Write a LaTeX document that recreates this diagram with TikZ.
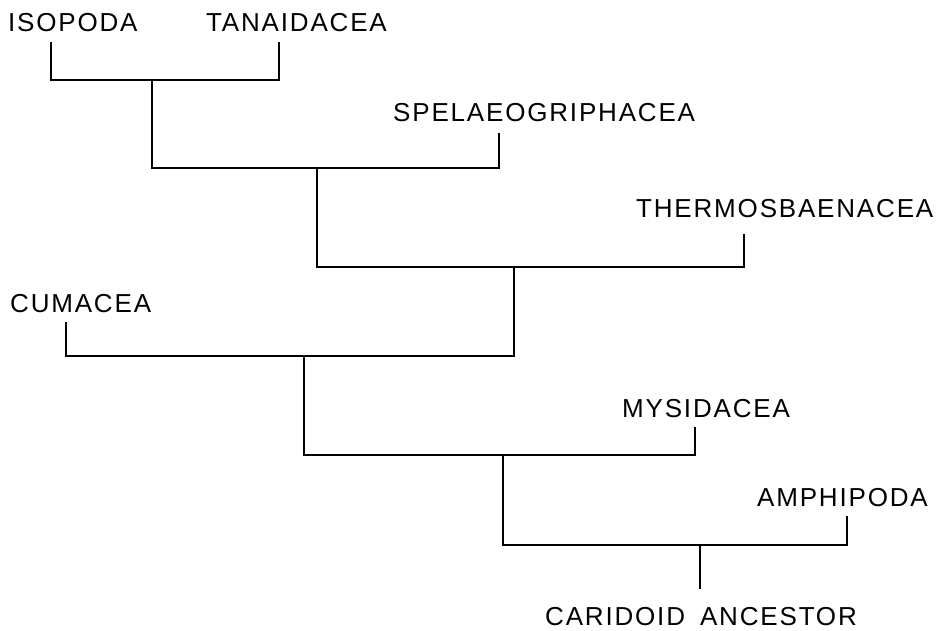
\documentclass[tikz,border=0pt]{standalone}
\usepackage{fontspec}
\setmainfont{Liberation Sans}[LetterSpace=7]
\begin{document}
\begin{tikzpicture}[x=1pt,y=-1pt,
  lab/.style={inner sep=0pt,anchor=base west,font=\fontsize{26}{30}\selectfont},
  branch/.style={line width=2.6pt,line join=miter}]
\useasboundingbox (0,0) rectangle (940,631);
% labels
\node[lab] (iso) at (8,32) {ISOPODA};
\node[lab] (tan) at (206,32) {TANAIDACEA};
\node[lab] (spe) at (393,122) {SPELAEOGRIPHACEA};
\node[lab] (the) at (636,218) {THERMOSBAENACEA};
\node[lab] (cum) at (10,312) {CUMACEA};
\node[lab] (mys) at (622,417) {MYSIDACEA};
\node[lab] (amp) at (757,506) {AMPHIPODA};
\node[lab] (car) at (545,625) {CARIDOID\hspace{6pt} ANCESTOR};
% leaf line ends
\coordinate (isoT) at (51,42);
\coordinate (tanT) at (279,42);
\coordinate (speT) at (499,133);
\coordinate (theT) at (744,234);
\coordinate (cumT) at (66,322);
\coordinate (mysT) at (695,427);
\coordinate (ampT) at (847,516);
\coordinate (carT) at (700,589);
% junctions
\coordinate (j1) at (152,80);
\coordinate (j2) at (317,168);
\coordinate (j3) at (514,267);
\coordinate (j4) at (304,356);
\coordinate (j5) at (503,455);
\coordinate (j6) at (700,545);
% branches
\draw[branch] (isoT) |- (j1) -| (tanT);
\draw[branch] (j1) |- (j2) -| (speT);
\draw[branch] (j2) |- (j3) -| (theT);
\draw[branch] (cumT) |- (j4) -| (j3);
\draw[branch] (j4) |- (j5) -| (mysT);
\draw[branch] (j5) |- (j6) -| (ampT);
\draw[branch] (j6) -- (carT);
\end{tikzpicture}
\end{document}
